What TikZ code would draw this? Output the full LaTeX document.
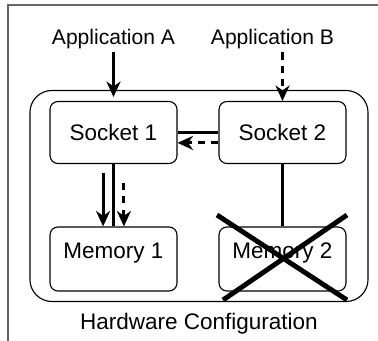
\documentclass[tikz,border=0pt]{standalone}
\usepackage{fontspec}
\setmainfont{Liberation Sans}
\usetikzlibrary{arrows.meta}

\tikzset{
  part/.style={draw, rounded corners=0.2cm, line width=0.8pt, minimum width=3.175cm,
    font=\fontsize{16}{19}\selectfont},
  socketbox/.style={part, minimum height=1.55cm, text depth=0pt},
  memorybox/.style={part, minimum height=1.6cm, text height=0.4cm, text depth=0.4cm},
  appname/.style={anchor=base, inner sep=2pt, font=\fontsize{15}{18}\selectfont},
  wire/.style={line width=1.9pt},
  access/.style={line width=2.1pt, -{Stealth[length=11pt,width=10pt,inset=3.5pt]}},
  daccess/.style={access, dash pattern=on 5pt off 4.5pt},
}

\begin{document}
\begin{tikzpicture}[x=0.025cm,y=-0.025cm]
  \useasboundingbox (0,0) rectangle (378,341);
  \draw[black!60, line width=1.4pt] (8,341) -- (8,5) -- (378,5);

  \node[draw, rounded corners=0.55cm, line width=0.8pt, minimum width=8.45cm,
    minimum height=5.275cm] (hw) at (199,196) {};
  \node[anchor=base, font=\fontsize{16}{19}\selectfont] (hwname) at (199,330) {Hardware Configuration};

  \node[appname] (appA) at (113.5,45) {Application A};
  \node[appname] (appB) at (272.5,45) {Application B};
  \coordinate (inA) at (113.5,97);

  \node[socketbox] (sock1) at (113.5,132.5) {Socket 1};
  \node[socketbox] (sock2) at (282.5,132.5) {Socket 2};
  \node[memorybox] (mem1) at (113.5,259) {Memory 1};
  \node[memorybox] (mem2) at (282.5,259) {Memory 2};

  \draw[access] (appA) -- (inA);
  \draw[daccess] (sock2.north |- appB.south) -- (sock2.north);

  \draw[wire] (sock2.west) -- (sock1.east);
  \draw[daccess] ([yshift=-0.26cm]sock2.west) -- ([yshift=-0.26cm]sock1.east);

  \draw[wire] (sock1) -- (mem1);
  \draw[access, shorten <=0.22cm] ([xshift=-0.26cm]sock1.south) -- ([xshift=-0.26cm]mem1.north);
  \draw[daccess, shorten <=0.47cm] ([xshift=0.26cm]sock1.south) -- ([xshift=0.26cm]mem1.north);
  \draw[wire] (sock2) -- (mem2);

  % memory 2 is gone
  \draw[line width=3.5pt] (217,215) -- (347,300) (347,215) -- (223,300);
\end{tikzpicture}
\end{document}
